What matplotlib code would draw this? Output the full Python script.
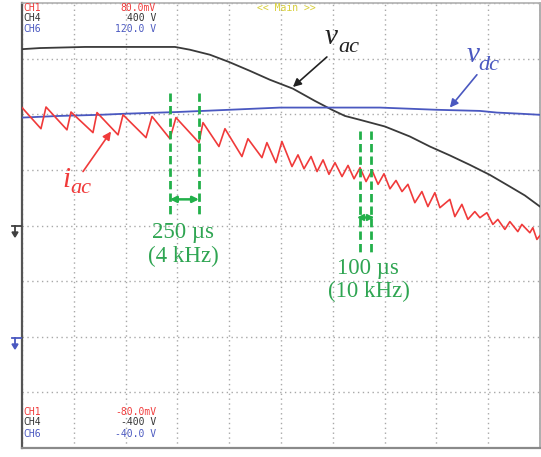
import matplotlib
matplotlib.use("Agg")
import matplotlib.pyplot as plt
from matplotlib.lines import Line2D
from matplotlib.patches import Polygon
import numpy as np

# ---- data (time in microseconds, amplitude in screen divisions) ----
iac_t = [0, 183, 232, 434, 473, 685, 724, 927, 975, 1197, 1255, 1428, 1486, 1708, 1747,
         1901, 1959, 2123, 2181, 2316, 2364, 2451, 2509, 2606,
         2664, 2722, 2790, 2848, 2906, 2963, 3021, 3089, 3147, 3205, 3263, 3321,
         3379, 3437, 3494, 3552, 3610, 3668, 3725, 3792, 3860, 3918, 3985, 4034,
         4130, 4178, 4246, 4304, 4371, 4420, 4487, 4545, 4593, 4661, 4709, 4786,
         4825, 4902, 4931, 4970, 5000]
iac_y = [2.12, 1.74, 2.13, 1.72, 2.04, 1.67, 2.03, 1.63, 1.99, 1.58, 1.96, 1.56, 1.94, 1.49, 1.85,
         1.42, 1.74, 1.24, 1.56, 1.22, 1.49, 1.13, 1.51, 1.06,
         1.27, 1.02, 1.24, 0.97, 1.18, 0.92, 1.13, 0.88, 1.08, 0.84, 1.04, 0.79,
         0.99, 0.74, 0.93, 0.66, 0.81, 0.61, 0.74, 0.41, 0.61, 0.34, 0.59, 0.32,
         0.47, 0.16, 0.38, 0.11, 0.25, 0.14, 0.23, 0.02, 0.11, -0.07, 0.07, -0.11,
         0.02, -0.13, -0.04, -0.25, -0.18]

vac_t = [0, 174, 608, 1477, 1621, 1814, 1998, 2200, 2393, 2615, 2827, 2992, 3117, 3262,
         3503, 3744, 3937, 4130, 4323, 4516, 4709, 4854, 5000]
vac_y = [3.17, 3.19, 3.21, 3.21, 3.16, 3.07, 2.94, 2.78, 2.62, 2.46, 2.24, 2.08, 1.97, 1.90,
         1.78, 1.60, 1.42, 1.26, 1.09, 0.91, 0.70, 0.54, 0.34]

vdc_t = [0, 367, 753, 1004, 1496, 1998, 2490, 2973, 3455, 4006, 4421, 4585, 4807, 5000]
vdc_y = [1.94, 1.97, 1.99, 2.01, 2.04, 2.08, 2.12, 2.12, 2.12, 2.08, 2.06, 2.03, 2.01, 1.99]

marker_4k_t = [1428, 1708]
marker_10k_t = [3262, 3368]

header_names = ["CH1", "CH4", "CH6"]
header_top = ["80.0mV", "400 V", "120.0 V"]
header_bottom = ["-80.0mV", "-400 V", "-40.0 V"]

RED = "#f03a3a"
BLACK = "#3a3a3a"
BLUE = "#4a58c0"
GREEN = "#22b04a"
GREEN_TXT = "#2fa552"

W, H = 541, 457
fig = plt.figure(figsize=(W / 100, H / 100), dpi=100)
ax = fig.add_axes([22 / W, 9 / H, 518 / W, 445 / H])
ax.set_xlim(0, 5000)
ax.set_ylim(-4, 4)
ax.set_xticks(np.arange(0, 5001, 500))
ax.set_yticks(np.arange(-4, 5, 1))
ax.tick_params(length=0, labelbottom=False, labelleft=False)
ax.grid(True, color="#a8a8a8", linestyle=(0, (1, 2.5)), linewidth=1.0)
ax.set_axisbelow(True)
for s, c in [("left", "#555555"), ("bottom", "#8a8a8a"), ("right", "#a0a0a0"), ("top", "#b0b0b0")]:
    ax.spines[s].set_color(c)
    ax.spines[s].set_linewidth(1.6 if s in ("left", "bottom") else 1.2)

ax.plot(vac_t, vac_y, color=BLACK, lw=1.3, zorder=3)
ax.plot(vdc_t, vdc_y, color=BLUE, lw=1.3, zorder=3)
ax.plot(iac_t, iac_y, color=RED, lw=1.2, zorder=4)

# green measurement markers
for tx in marker_4k_t:
    ax.plot([tx, tx], [2.39, 0.18], color=GREEN, lw=2, linestyle=(0, (3, 1.5)), zorder=5)
for tx in marker_10k_t:
    ax.plot([tx, tx], [1.69, -0.48], color=GREEN, lw=2, linestyle=(0, (3, 1.5)), zorder=5)
ax.annotate("", xy=(marker_4k_t[0], 0.47), xytext=(marker_4k_t[1], 0.47),
            arrowprops=dict(arrowstyle="<|-|>", color=GREEN, lw=1.8, mutation_scale=9,
                            shrinkA=0, shrinkB=0), zorder=6)
ax.plot(marker_10k_t, [0.16, 0.16], color=GREEN, lw=1.8, zorder=6)
ax.plot([marker_10k_t[0] + 15], [0.16], marker="<", color=GREEN, markersize=5, zorder=6)
ax.plot([marker_10k_t[1] - 15], [0.16], marker=">", color=GREEN, markersize=5, zorder=6)

serif = "Liberation Serif"
ax.text(1554, -0.13, "250 µs", color=GREEN_TXT, fontsize=16.5, family=serif, ha="center", va="center")
ax.text(1554, -0.56, "(4 kHz)", color=GREEN_TXT, fontsize=16.5, family=serif, ha="center", va="center")
ax.text(3339, -0.77, "100 µs", color=GREEN_TXT, fontsize=16.5, family=serif, ha="center", va="center")
ax.text(3345, -1.18, "(10 kHz)", color=GREEN_TXT, fontsize=16.5, family=serif, ha="center", va="center")

# signal labels
def label(t, y, main, sub, dt, dy, color):
    ax.text(t, y, main, color=color, fontsize=21, family=serif, style="italic",
            ha="left", va="baseline", zorder=7)
    ax.text(t + dt, y + dy, sub, color=color, fontsize=16, family=serif, style="italic",
            ha="left", va="baseline", zorder=7)

label(2924, 3.26, "v", "ac", 125, -0.14, "#222222")
label(4294, 2.94, "v", "dc", 106, -0.14, BLUE)
label(386, 0.70, "i", "ac", 77, -0.11, RED)

ax.annotate("", xy=(2615, 2.49), xytext=(2943, 3.03),
            arrowprops=dict(arrowstyle="-|>", color="#222222", lw=1.2, mutation_scale=12,
                            shrinkA=0, shrinkB=0))
ax.annotate("", xy=(4130, 2.12), xytext=(4391, 2.71),
            arrowprops=dict(arrowstyle="-|>", color=BLUE, lw=1.2, mutation_scale=12,
                            shrinkA=0, shrinkB=0))
ax.annotate("", xy=(859, 1.69), xytext=(589, 0.97),
            arrowprops=dict(arrowstyle="-|>", color=RED, lw=1.2, mutation_scale=12,
                            shrinkA=0, shrinkB=0))

# header / footer readouts
def fx(px):
    return px / W

def fy(py):
    return 1 - py / H

mono = "DejaVu Sans Mono"
cols = [RED, "#333333", BLUE]
for i, (n, v) in enumerate(zip(header_names, header_top)):
    yy = [8, 18, 29][i]
    fig.text(fx(23), fy(yy), n, color=cols[i], fontsize=7, family=mono, va="center", ha="left")
    fig.text(fx(156), fy(yy), v, color=cols[i], fontsize=7, family=mono, va="center", ha="right")
for i, (n, v) in enumerate(zip(header_names, header_bottom)):
    yy = [412, 422, 434][i]
    fig.text(fx(23), fy(yy), n, color=cols[i], fontsize=7, family=mono, va="center", ha="left")
    fig.text(fx(156), fy(yy), v, color=cols[i], fontsize=7, family=mono, va="center", ha="right")
fig.text(fx(286), fy(8), "<< Main >>", color="#d8cf3a", fontsize=7, family=mono, va="center", ha="center")

# ground-level markers on the left edge
def ground(py, color):
    fig.add_artist(Line2D([fx(12), fx(21)], [fy(py), fy(py)], color=color, lw=1.3))
    fig.add_artist(Line2D([fx(15), fx(15)], [fy(py), fy(py + 7)], color=color, lw=1.3))
    fig.add_artist(Polygon([[fx(12), fy(py + 6)], [fx(18), fy(py + 6)], [fx(15), fy(py + 11)]],
                           closed=True, color=color, transform=fig.transFigure))

ground(226, "#404040")
ground(338, BLUE)

fig.savefig("out.png", dpi=100)
